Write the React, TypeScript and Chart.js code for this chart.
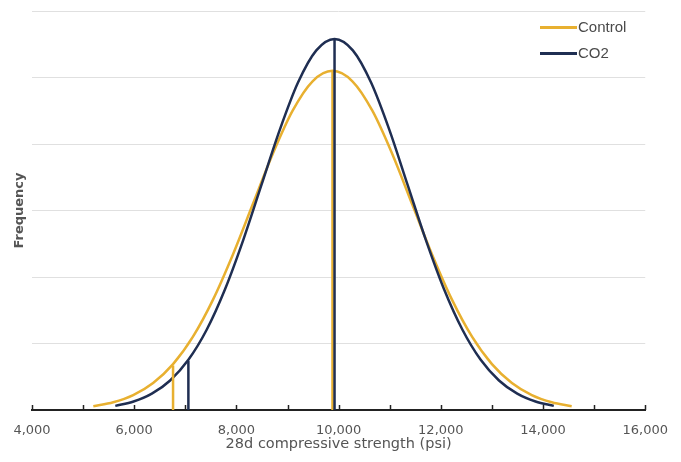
import { useEffect, useRef } from 'react';
import { Chart, registerables } from 'chart.js';

Chart.register(...registerables);

// Series names
const seriesNames = ['Control', 'CO2'];

// Control curve
const controlX = [5200, 5590, 5980, 6370, 6760, 7150, 7540, 7930, 8320, 8710, 9100, 9490, 9880, 10270, 10660, 11050, 11440, 11830, 12220, 12610, 13000, 13390, 13780, 14170, 14560];
const controlY = [0.057, 0.116, 0.224, 0.406, 0.69, 1.103, 1.656, 2.335, 3.093, 3.85, 4.501, 4.943, 5.1, 4.943, 4.501, 3.85, 3.093, 2.335, 1.656, 1.103, 0.69, 0.406, 0.224, 0.116, 0.057];

// CO2 curve
const co2X = [5630, 5988, 6345, 6703, 7060, 7418, 7775, 8133, 8490, 8848, 9205, 9563, 9920, 10278, 10635, 10993, 11350, 11708, 12065, 12423, 12780, 13138, 13495, 13853, 14210];
const co2Y = [0.062, 0.127, 0.245, 0.444, 0.755, 1.207, 1.812, 2.555, 3.384, 4.212, 4.924, 5.408, 5.58, 5.408, 4.924, 4.212, 3.384, 2.555, 1.812, 1.207, 0.755, 0.444, 0.245, 0.127, 0.062];

// Marker lines: [x, height]
const controlMeanLine = [9880, 5.1];
const controlLowLine = [6760, 0.67];
const co2MeanLine = [9920, 5.58];
const co2LowLine = [7060, 0.74];

// Axis ticks
const xMin = 4000;
const xMax = 16000;
const xLabelStep = 2000;
const xTickMarks = [4000, 5000, 6000, 7000, 8000, 9000, 10000, 11000, 12000, 13000, 14000, 15000, 16000];
const yMax = 6;

const xTitle = '28d compressive strength (psi)';
const yTitle = 'Frequency';

const YELLOW = '#E8B030';
const NAVY = '#1F2E52';
const TEXT = '#555555';
const AXIS_FONT = '"DejaVu Sans", Arial, sans-serif';
const LEGEND_FONT = '"Liberation Sans", Arial, sans-serif';

function pts(xs: number[], ys: number[]) {
  return xs.map((x, i) => ({ x, y: ys[i] }));
}
function vline(l: number[]) {
  return [{ x: l[0], y: 0 }, { x: l[0], y: l[1] }];
}

const extrasPlugin = {
  id: 'extras',
  afterDraw(chart: any) {
    const ctx = chart.ctx;
    const xs = chart.scales.x;
    const area = chart.chartArea;
    ctx.save();
    // tick marks pointing upward
    ctx.strokeStyle = '#222';
    ctx.lineWidth = 1.5;
    xTickMarks.forEach((v) => {
      const px = Math.round(xs.getPixelForValue(v)) + 0.5;
      ctx.beginPath();
      ctx.moveTo(px, area.bottom - 5);
      ctx.lineTo(px, area.bottom);
      ctx.stroke();
    });
    // legend
    const colors = [YELLOW, NAVY];
    ctx.font = '15px ' + LEGEND_FONT;
    ctx.textBaseline = 'middle';
    ctx.textAlign = 'left';
    seriesNames.forEach((name, i) => {
      const y = 27.5 + i * 26;
      ctx.strokeStyle = colors[i];
      ctx.lineWidth = 3;
      ctx.beginPath();
      ctx.moveTo(540, y);
      ctx.lineTo(577, y);
      ctx.stroke();
      ctx.fillStyle = '#4a4a4a';
      ctx.fillText(name, 578, y);
    });
    ctx.restore();
  },
};

export default function App() {
  const ref = useRef<HTMLCanvasElement>(null);
  useEffect(() => {
    if (!ref.current) return;
    const common = { showLine: true, pointRadius: 0, fill: false };
    const chart = new Chart(ref.current, {
      type: 'scatter',
      data: {
        datasets: [
          { ...common, label: seriesNames[0], data: pts(controlX, controlY), borderColor: YELLOW, borderWidth: 2.5, cubicInterpolationMode: 'monotone', order: 4 },
          { ...common, label: seriesNames[1], data: pts(co2X, co2Y), borderColor: NAVY, borderWidth: 2.5, cubicInterpolationMode: 'monotone', order: 3 },
          { ...common, label: 'cm', data: vline(controlMeanLine), borderColor: YELLOW, borderWidth: 2.5, order: 2 },
          { ...common, label: 'cl', data: vline(controlLowLine), borderColor: YELLOW, borderWidth: 2.5, order: 2 },
          { ...common, label: 'om', data: vline(co2MeanLine), borderColor: NAVY, borderWidth: 2.5, order: 1 },
          { ...common, label: 'ol', data: vline(co2LowLine), borderColor: NAVY, borderWidth: 2.5, order: 1 },
        ] as any,
      },
      plugins: [extrasPlugin],
      options: {
        animation: false,
        responsive: true,
        maintainAspectRatio: false,
        layout: { padding: { top: 11, right: 33, left: 0, bottom: 0 } },
        plugins: { legend: { display: false }, tooltip: { enabled: false } },
        scales: {
          x: {
            type: 'linear',
            min: xMin,
            max: xMax,
            afterFit: (s: any) => { s.height = 52; },
            ticks: {
              stepSize: xLabelStep,
              color: TEXT,
              font: { family: AXIS_FONT, size: 13 },
              padding: 13,
              maxRotation: 0,
              callback: (v: any) => Number(v).toLocaleString('en-US'),
            },
            grid: { display: false, drawTicks: false },
            border: { display: true, color: '#222', width: 2 },
            title: { display: true, text: xTitle, color: TEXT, font: { family: AXIS_FONT, size: 14.5 }, padding: { top: 0, bottom: 9 } },
          },
          y: {
            min: 0,
            max: yMax,
            afterFit: (s: any) => { s.width = 32; },
            ticks: { display: false, stepSize: 1 },
            grid: { color: '#e0e0e0', lineWidth: 1, drawTicks: false },
            border: { display: false },
            title: { display: true, text: yTitle, color: TEXT, font: { family: AXIS_FONT, size: 13, weight: 'bold' }, padding: { top: 12, bottom: 0 } },
          },
        },
      } as any,
    });
    return () => chart.destroy();
  }, []);
  return (
    <div style={{ position: 'fixed', left: 0, top: 0, width: 681, height: 462, background: '#fff' }}>
      <canvas ref={ref} />
    </div>
  );
}
